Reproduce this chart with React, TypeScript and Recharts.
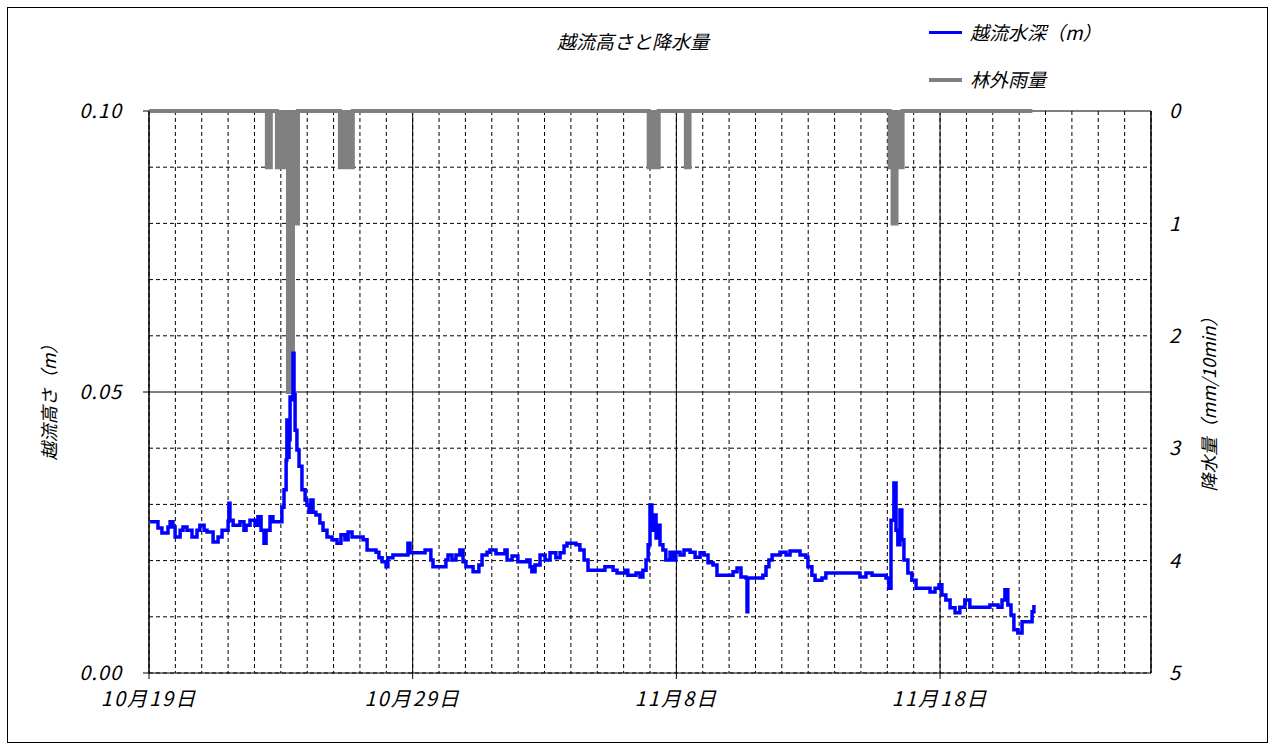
import { Area, CartesianGrid, ComposedChart, Line, XAxis, YAxis } from "recharts";

// day offset from 10/19 00:00
const dateTicks = [0, 10, 20, 30];
const dateLabels = ["10月19日", "10月29日", "11月8日", "11月18日"];
const depthTicks = [0, 0.05, 0.1];
const rainTicks = [0, 1, 2, 3, 4, 5];

// [day, overflow depth (m)]
const depthSeries: [number, number][] = [
  [0.04, 0.0269], [0.23, 0.0269], [0.34, 0.0258], [0.49, 0.0249], [0.72, 0.026],
  [0.8, 0.0269], [0.91, 0.026], [0.99, 0.0242], [1.18, 0.0254], [1.29, 0.026],
  [1.44, 0.0254], [1.63, 0.0242], [1.82, 0.0254], [1.93, 0.0263], [2.09, 0.0254],
  [2.2, 0.0251], [2.43, 0.0233], [2.62, 0.0242], [2.77, 0.0254], [3.0, 0.027],
  [3.03, 0.0302], [3.07, 0.0272], [3.19, 0.0263], [3.45, 0.0269], [3.6, 0.0254],
  [3.68, 0.0263], [3.83, 0.0272], [4.02, 0.0263], [4.13, 0.0278], [4.25, 0.0254],
  [4.36, 0.0231], [4.44, 0.0254], [4.59, 0.0278], [4.7, 0.0269], [4.97, 0.0269],
  [5.04, 0.0295], [5.12, 0.0326], [5.2, 0.0379], [5.23, 0.045], [5.27, 0.0384],
  [5.31, 0.0415], [5.35, 0.0491], [5.38, 0.0486], [5.46, 0.0569], [5.5, 0.0495],
  [5.54, 0.0432], [5.61, 0.0397], [5.69, 0.0368], [5.8, 0.0326], [5.92, 0.0308],
  [5.99, 0.0299], [6.07, 0.0286], [6.14, 0.0308], [6.22, 0.0286], [6.33, 0.0281],
  [6.48, 0.0267], [6.6, 0.0254], [6.75, 0.0242], [6.94, 0.0237], [7.13, 0.0231],
  [7.28, 0.0246], [7.43, 0.0237], [7.55, 0.0251], [7.7, 0.0242], [7.85, 0.0242],
  [8.12, 0.0237], [8.27, 0.0219], [8.61, 0.0215], [8.72, 0.0205], [8.84, 0.0198],
  [8.99, 0.0189], [9.06, 0.0205], [9.25, 0.021], [9.63, 0.021], [9.82, 0.0231],
  [9.9, 0.0214], [10.13, 0.0214], [10.47, 0.0219], [10.69, 0.0201], [10.77, 0.0189],
  [11.15, 0.0189], [11.26, 0.0201], [11.34, 0.021], [11.49, 0.0201], [11.64, 0.021],
  [11.79, 0.0219], [11.91, 0.0198], [12.02, 0.0189], [12.29, 0.018], [12.51, 0.0192],
  [12.63, 0.021], [12.82, 0.0215], [12.93, 0.0219], [13.16, 0.0212], [13.42, 0.0212],
  [13.5, 0.0219], [13.58, 0.0201], [13.77, 0.0208], [13.99, 0.0198], [14.33, 0.0201],
  [14.45, 0.0189], [14.52, 0.018], [14.64, 0.0192], [14.83, 0.021], [15.02, 0.0201],
  [15.21, 0.0214], [15.43, 0.0205], [15.59, 0.0214], [15.74, 0.0226], [15.85, 0.0231],
  [16.19, 0.0228], [16.34, 0.0219], [16.5, 0.0201], [16.65, 0.0183], [17.1, 0.0183],
  [17.29, 0.0189], [17.6, 0.0183], [17.75, 0.0178], [18.05, 0.0183], [18.16, 0.0174],
  [18.47, 0.0178], [18.62, 0.0171], [18.73, 0.0183], [18.85, 0.0201], [18.93, 0.0228],
  [19.0, 0.0299], [19.07, 0.0254], [19.15, 0.0281], [19.23, 0.024], [19.3, 0.0263],
  [19.38, 0.0228], [19.49, 0.0219], [19.6, 0.0201], [19.76, 0.0215], [19.87, 0.0201],
  [19.98, 0.0215], [20.14, 0.021], [20.29, 0.0219], [20.52, 0.0215], [20.71, 0.0206],
  [20.9, 0.0214], [21.05, 0.021], [21.2, 0.0196], [21.39, 0.0192], [21.54, 0.0174],
  [21.84, 0.0174], [22.15, 0.018], [22.3, 0.0187], [22.45, 0.0171], [22.64, 0.0169],
  [22.68, 0.0109], [22.71, 0.0169], [22.98, 0.0169], [23.28, 0.0174], [23.4, 0.0189],
  [23.51, 0.0201], [23.63, 0.021], [23.93, 0.0215], [24.16, 0.021], [24.31, 0.0217],
  [24.69, 0.021], [24.91, 0.0206], [24.99, 0.0189], [25.14, 0.0174], [25.26, 0.0165],
  [25.52, 0.0169], [25.67, 0.0178], [26.2, 0.0178], [26.77, 0.0178], [26.96, 0.0171],
  [27.19, 0.0178], [27.42, 0.0174], [27.72, 0.0174], [27.95, 0.0169], [28.06, 0.0151],
  [28.14, 0.0272], [28.25, 0.0338], [28.33, 0.0254], [28.4, 0.0228], [28.48, 0.029],
  [28.55, 0.0237], [28.63, 0.0201], [28.78, 0.0178], [28.93, 0.0165], [29.09, 0.0151],
  [29.43, 0.0151], [29.62, 0.0144], [29.81, 0.0151], [29.96, 0.0157], [30.07, 0.0139],
  [30.22, 0.013], [30.38, 0.0116], [30.57, 0.0107], [30.75, 0.0117], [30.94, 0.013],
  [31.13, 0.0117], [31.51, 0.0117], [31.89, 0.0121], [32.2, 0.0117], [32.35, 0.013],
  [32.46, 0.0148], [32.57, 0.0121], [32.69, 0.0103], [32.8, 0.0077], [32.95, 0.0071],
  [33.11, 0.0091], [33.41, 0.0091], [33.49, 0.0109], [33.56, 0.0121],
];

// [day, rainfall (mm/10min)], held until the next point
const rainSeries: [number, number][] = [
  [0, 0], [4.47, 0.5], [4.62, 0], [4.85, 0.5], [5.27, 2.5], [5.46, 1.0], [5.65, 0],
  [7.24, 0.5], [7.73, 0], [18.95, 0.5], [19.33, 0], [20.36, 0.5], [20.5, 0],
  [28.09, 0.5], [28.2, 1.0], [28.35, 0.5], [28.58, 0], [33.5, 0],
];

const FONT = "'Noto Sans CJK JP', 'Noto Sans', sans-serif";
const tickStyle = { fill: "#000", fontSize: 20, fontStyle: "italic", fontFamily: FONT, letterSpacing: 1 };

const depthData = depthSeries.map(([day, depth]) => ({ day, depth }));
const rainData = rainSeries.map(([day, rain]) => ({ day, rain }));
const dayLines = Array.from({ length: 39 }, (_, i) => i);
const decadeLines = [0, 10, 20, 30, 38];
const depthLines = [0, 0.01, 0.02, 0.03, 0.04, 0.06, 0.07, 0.08, 0.09];
const depthMajorLines = [0.05, 0.1];

const text = (extra: React.CSSProperties): React.CSSProperties => ({
  position: "absolute",
  fontFamily: FONT,
  fontStyle: "italic",
  fontSize: 19,
  color: "#000",
  whiteSpace: "nowrap",
  ...extra,
});

const xAt = (axis: any, offset: any, v: number) =>
  axis && typeof axis.scale === "function" ? axis.scale(v) : offset.left + (offset.width * v) / 38;
const yAt = (axis: any, offset: any, v: number) =>
  axis && typeof axis.scale === "function" ? axis.scale(v) : offset.top + offset.height * (1 - v / 0.1);

export default function App() {
  return (
    <div style={{ position: "absolute", left: 0, top: 0, width: 1274, height: 748, background: "#fff" }}>
      <div
        style={{
          position: "absolute",
          left: 7,
          top: 7,
          width: 1261,
          height: 736,
          border: "1px solid #000",
          boxSizing: "border-box",
        }}
      />
      <div style={{ position: "absolute", left: 0, top: 0 }}>
        <ComposedChart width={1274} height={748} margin={{ top: 111, right: 63, bottom: 45, left: 89 }}>
          <CartesianGrid
            yAxisId="left"
            stroke="#000"
            strokeDasharray="4 3"
            verticalCoordinatesGenerator={({ xAxis, offset }: any) => dayLines.map((d) => xAt(xAxis, offset, d))}
            horizontalCoordinatesGenerator={({ yAxis, offset }: any) => depthLines.map((v) => yAt(yAxis, offset, v))}
          />
          <CartesianGrid
            yAxisId="left"
            stroke="#000"
            verticalCoordinatesGenerator={({ xAxis, offset }: any) => decadeLines.map((d) => xAt(xAxis, offset, d))}
            horizontalCoordinatesGenerator={({ yAxis, offset }: any) =>
              depthMajorLines.map((v) => yAt(yAxis, offset, v))
            }
          />
          <XAxis
            dataKey="day"
            type="number"
            domain={[0, 38]}
            allowDataOverflow
            ticks={dateTicks}
            tickFormatter={(v) => dateLabels[dateTicks.indexOf(Number(v))] ?? ""}
            tick={{ ...tickStyle, letterSpacing: 2 }}
            tickSize={6}
            tickMargin={13}
            height={30}
            stroke="#000"
          />
          <YAxis
            yAxisId="left"
            domain={[0, 0.1]}
            ticks={depthTicks}
            tickFormatter={(v) => Number(v).toFixed(2)}
            tick={tickStyle}
            tickSize={6}
            tickMargin={21}
            width={60}
            stroke="#000"
          />
          <YAxis
            yAxisId="right"
            orientation="right"
            domain={[0, 5]}
            reversed
            ticks={rainTicks}
            tick={{ ...tickStyle, textAnchor: "start" }}
            tickLine={false}
            tickSize={0}
            tickMargin={18}
            width={60}
            stroke="#000"
          />
          <Area
            yAxisId="right"
            data={rainData}
            dataKey="rain"
            type="stepAfter"
            stroke="#808080"
            strokeWidth={4}
            fill="#808080"
            fillOpacity={1}
            isAnimationActive={false}
            dot={false}
            activeDot={false}
          />
          <Line
            yAxisId="left"
            data={depthData}
            dataKey="depth"
            type="stepAfter"
            stroke="#0000ff"
            strokeWidth={3.5}
            dot={false}
            activeDot={false}
            isAnimationActive={false}
          />
        </ComposedChart>
      </div>

      <div style={text({ left: 557, top: 27 })}>越流高さと降水量</div>

      <div style={{ position: "absolute", left: 929, top: 31, width: 33, height: 3, background: "#0000ff" }} />
      <div style={text({ left: 970, top: 18 })}>越流水深（m）</div>
      <div style={{ position: "absolute", left: 929, top: 78, width: 33, height: 4, background: "#808080" }} />
      <div style={text({ left: 970, top: 65 })}>林外雨量</div>

      <div
        style={text({
          left: 48,
          top: 398,
          transform: "translate(-50%, -50%) rotate(-90deg)",
          fontSize: 18,
        })}
      >
        越流高さ（m）
      </div>
      <div
        style={text({
          left: 1208,
          top: 400,
          transform: "translate(-50%, -50%) rotate(-90deg)",
          fontSize: 18,
        })}
      >
        降水量（mm/10min）
      </div>
    </div>
  );
}
